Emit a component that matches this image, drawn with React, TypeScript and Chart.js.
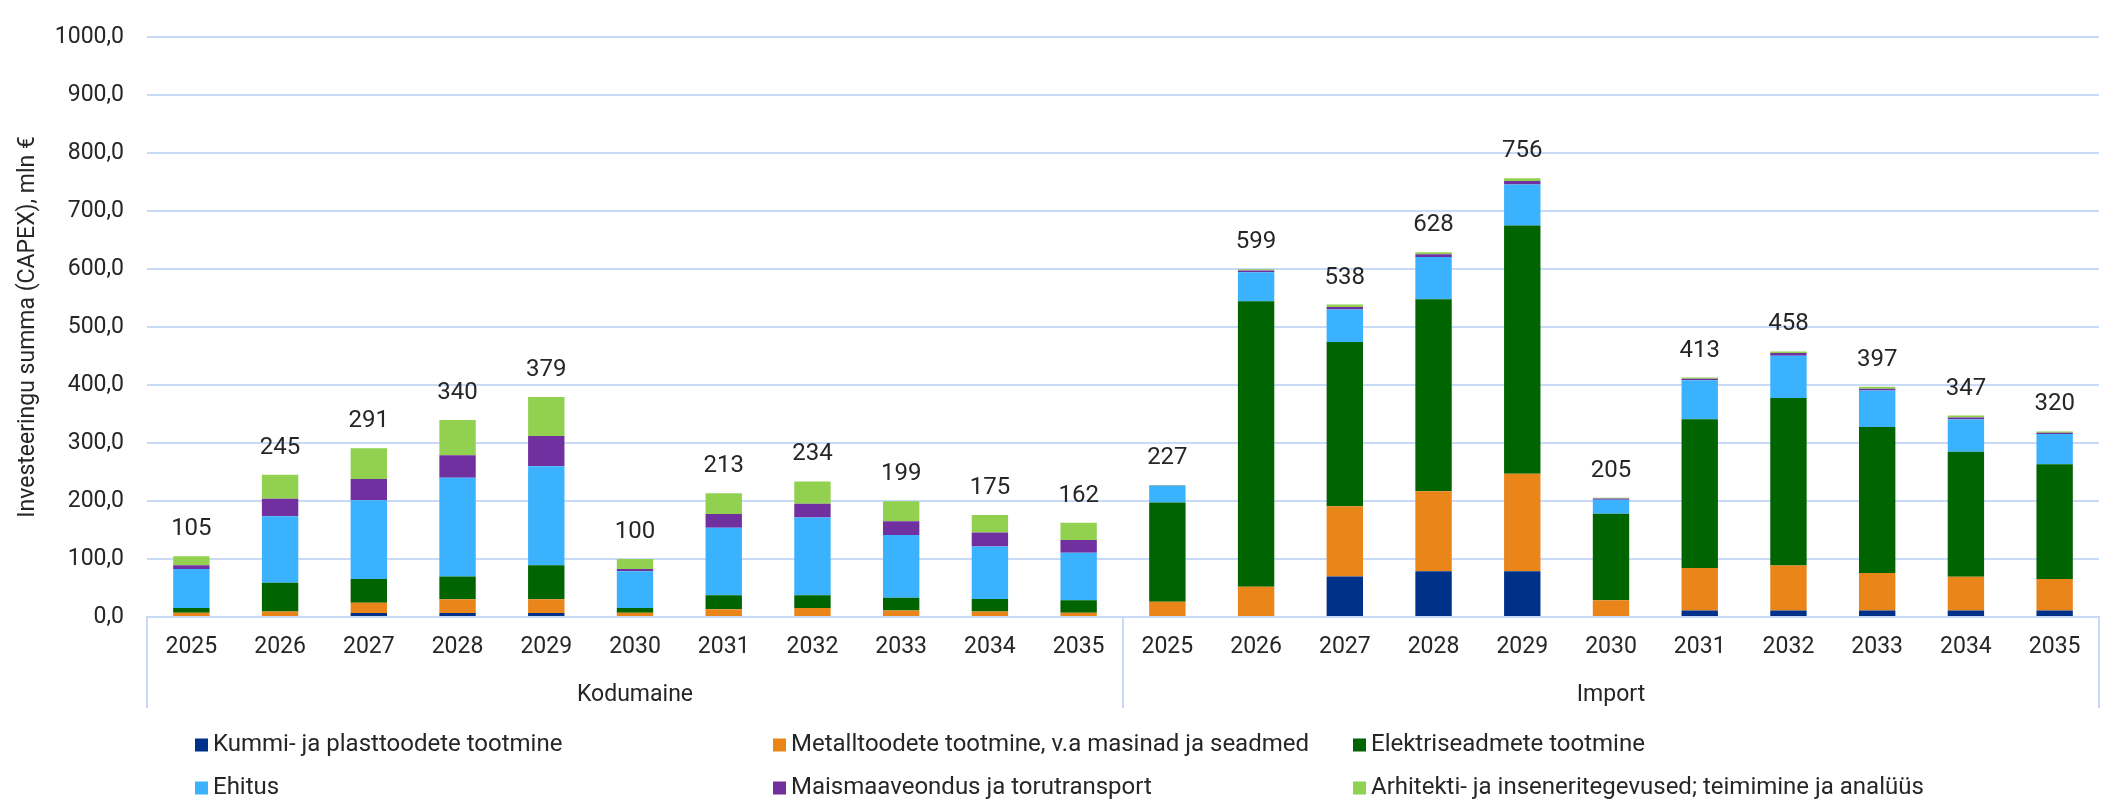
import React, { useEffect, useRef } from "react";
import { Chart, registerables } from "chart.js";

Chart.register(...registerables);

const years = ["2025", "2026", "2027", "2028", "2029", "2030", "2031", "2032", "2033", "2034", "2035"];
const groups = ["Kodumaine", "Import"];
const categories = [...years, ...years];

const seriesNames = [
  "Kummi- ja plasttoodete tootmine",
  "Metalltoodete tootmine, v.a masinad ja seadmed",
  "Elektriseadmete tootmine",
  "Ehitus",
  "Maismaaveondus ja torutransport",
  "Arhitekti- ja inseneritegevused; teimimine ja analüüs",
];
const seriesColors = ["#003189", "#EA851A", "#006400", "#3BB2FE", "#7030A0", "#92D050"];

const kummi = [0, 0, 7, 7, 7, 0, 0, 0, 0, 0, 0, 0, 0, 70, 79, 79, 0, 11, 11, 11, 11, 11];
const metall = [7.3, 9.6, 17.4, 23.6, 23.6, 7.3, 13.5, 15.7, 11.2, 9.6, 7.3, 26.4, 52, 120.7, 137.6, 168, 28.7, 73.4, 77.9, 65, 58.3, 54.3];
const elektri = [8.4, 49.4, 41, 39.3, 58.4, 8.4, 24, 22, 22, 21.3, 21.4, 170.8, 492, 283.2, 331, 427.6, 149.3, 256.4, 288.5, 251.5, 215.7, 197.8];
const ehitus = [67, 114.6, 136, 170, 171, 63, 116.4, 133.7, 108, 90.4, 82, 29.2, 50, 56, 73, 71, 24.2, 67.4, 72.8, 62.8, 56, 52.1];
const maismaa = [6.7, 30.4, 36.5, 38.8, 52, 4, 23.5, 23.6, 24, 24.2, 22, 0.3, 3, 4.5, 4.5, 6, 2, 2.5, 5, 3.3, 2.8, 2.2];
const arhitekti = [15.2, 41, 53, 61, 67, 17.4, 36, 38.7, 34.4, 30.3, 29.8, 0.8, 2.5, 4, 3.5, 4.5, 1.2, 2, 2.6, 3.3, 3.4, 2.4];
const totals = [105, 245, 291, 340, 379, 100, 213, 234, 199, 175, 162, 227, 599, 538, 628, 756, 205, 413, 458, 397, 347, 320];

const yTicksMin = 0;
const yTicksMax = 1000;
const yTicksStep = 100;

const seriesValues = [kummi, metall, elektri, ehitus, maismaa, arhitekti];

const FONT = "Roboto";
const TEXT = "#262626";
const GRID = "#C8DAF8";

const overlayPlugin = {
  id: "overlay",
  afterDatasetsDraw(chart: any) {
    const { ctx, chartArea, scales } = chart;
    const x = scales.x;
    const y = scales.y;
    ctx.save();
    // totals above stacks
    ctx.font = `24px ${FONT}`;
    ctx.fillStyle = TEXT;
    ctx.textAlign = "center";
    ctx.textBaseline = "middle";
    totals.forEach((t, i) => {
      let sum = 0;
      chart.data.datasets.forEach((ds: any) => (sum += ds.data[i] || 0));
      const px = x.getPixelForValue(i);
      const py = y.getPixelForValue(sum) - 27;
      ctx.fillText(String(t), px, py);
    });
    // group separators
    const n = years.length;
    const bottomY = 708;
    const mid = (x.getPixelForValue(n - 1) + x.getPixelForValue(n)) / 2;
    const bounds = [chartArea.left, mid, chartArea.right];
    ctx.strokeStyle = GRID;
    ctx.lineWidth = 2;
    bounds.forEach((bx) => {
      ctx.beginPath();
      ctx.moveTo(bx, chartArea.bottom);
      ctx.lineTo(bx, bottomY);
      ctx.stroke();
    });
    // group labels
    ctx.font = `23px ${FONT}`;
    groups.forEach((g, gi) => {
      const cx = (bounds[gi] + bounds[gi + 1]) / 2;
      ctx.fillText(g, cx, 695);
    });
    // legend
    const cols = [195, 773, 1353];
    const rows = [745, 788];
    ctx.font = `24px ${FONT}`;
    ctx.textAlign = "left";
    chart.data.datasets.forEach((ds: any, i: number) => {
      const lx = cols[i % 3];
      const ly = rows[Math.floor(i / 3)];
      ctx.fillStyle = ds.backgroundColor;
      ctx.fillRect(lx, ly - 6.5, 13, 13);
      ctx.fillStyle = TEXT;
      ctx.fillText(ds.label, lx + 18, ly);
    });
    ctx.restore();
  },
};

export default function App() {
  const ref = useRef<HTMLCanvasElement | null>(null);
  useEffect(() => {
    document.body.style.margin = "0";
    const canvas = ref.current;
    if (!canvas) return;
    const chart = new Chart(canvas, {
      type: "bar",
      data: {
        labels: categories,
        datasets: seriesValues.map((vals, i) => ({
          label: seriesNames[i],
          data: vals,
          backgroundColor: seriesColors[i],
          borderWidth: 0,
          categoryPercentage: 1,
          barPercentage: 0.41,
        })),
      },
      options: {
        responsive: false,
        animation: false,
        devicePixelRatio: 1,
        layout: { padding: { left: 0, right: 6, top: 21, bottom: 0 } },
        plugins: {
          legend: { display: false },
          tooltip: { enabled: false },
        },
        scales: {
          x: {
            stacked: true,
            grid: { display: false, drawTicks: false },
            border: { display: true, color: GRID, width: 2 },
            ticks: {
              color: TEXT,
              font: { family: FONT, size: 23 },
              padding: 16,
              maxRotation: 0,
              autoSkip: false,
            },
            afterFit: (scale: any) => {
              scale.height = 184;
            },
          },
          y: {
            stacked: true,
            min: yTicksMin,
            max: yTicksMax,
            grid: { color: GRID, lineWidth: 2, drawTicks: false },
            border: { display: false },
            ticks: {
              stepSize: yTicksStep,
              color: TEXT,
              font: { family: FONT, size: 23 },
              padding: 23,
              callback: (v: any) => Number(v).toFixed(1).replace(".", ","),
            },
            title: {
              display: true,
              text: "Investeeringu summa (CAPEX), mln €",
              color: TEXT,
              font: { family: FONT, size: 23 },
              padding: { top: 14, bottom: 0 },
            },
            afterFit: (scale: any) => {
              scale.width = 147;
            },
          },
        },
      },
      plugins: [overlayPlugin],
    });
    return () => chart.destroy();
  }, []);
  return (
    <div style={{ width: 2105, height: 801 }}>
      <canvas ref={ref} width={2105} height={801} style={{ display: "block" }} />
    </div>
  );
}
